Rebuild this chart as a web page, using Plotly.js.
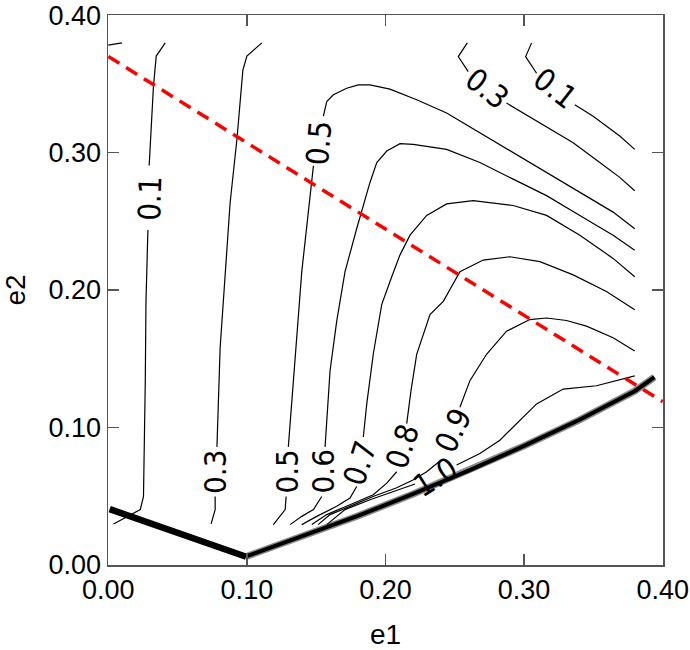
<!DOCTYPE html>
<html>
<head>
<meta charset="utf-8">
<script src="https://cdn.plot.ly/plotly-3.0.1.min.js"></script>
<style>html,body{margin:0;padding:0;background:#fff;}</style>
</head>
<body>
<div id="chart" style="width:690px;height:650px;"></div>
<script>
// ---- data (e1, e2 coordinates) ----
const tickVals = [0, 0.1, 0.2, 0.3, 0.4];
const tickText = ["0.00", "0.10", "0.20", "0.30", "0.40"];

// contour lines (null = gap where the level label sits)
const c01x = [0.0411,0.0346,0.0326,0.0310,0.0295,null,0.0286,0.0272,0.0267,0.0254,0.0231,0.0038];
const c01y = [0.3799,0.3703,0.3484,0.3217,0.2906,null,0.2437,0.1917,0.1339,0.0497,0.0401,0.0297];

const c03x = [0.1108,0.1000,0.0971,0.0951,0.0928,0.0879,0.0831,0.0807,0.0784,null,0.0771,0.0771,0.0742];
const c03y = [0.3799,0.3703,0.3601,0.3361,0.3096,0.2635,0.1917,0.1580,0.0858,null,0.0497,0.0401,0.0297];

const c05x = [0.1191,0.1276,0.1283,null,0.1299,0.1348,0.1396,0.1480,null,0.1552,0.1576,0.1624,0.1720,0.1804,0.1888,0.2032,0.2225,0.2441,0.2681,0.2921,0.3162,0.3402,0.3642,0.3798];
const c05y = [0.0292,0.0401,0.0497,null,0.0858,0.1534,0.2134,0.2904,null,0.3265,0.3372,0.3421,0.3469,0.3493,0.3493,0.3462,0.3385,0.3289,0.3144,0.3000,0.2856,0.2711,0.2567,0.2446];

const c06x = [0.1312,0.1396,0.1480,0.1540,null,0.1564,0.1600,0.1648,0.1708,0.1792,0.1840,0.1888,0.1937,0.2009,0.2105,0.2200,0.2441,0.2681,0.2921,0.3162,0.3402,0.3642,0.3798];
const c06y = [0.0292,0.0352,0.0401,0.0497,null,0.0858,0.1412,0.1773,0.2134,0.2446,0.2615,0.2783,0.2928,0.3012,0.3065,0.3060,0.3024,0.2928,0.2807,0.2687,0.2543,0.2399,0.2290];

const c07x = [0.1396,0.1504,0.1648,0.1744,0.1792,null,0.1840,0.1865,0.1912,0.1973,0.2045,0.2104,0.2177,0.2297,0.2441,0.2633,0.2921,0.3162,0.3402,0.3642,0.3798];
const c07y = [0.0292,0.0352,0.0425,0.0485,0.0569,null,0.0930,0.1173,0.1534,0.1895,0.2097,0.2254,0.2399,0.2543,0.2627,0.2651,0.2615,0.2543,0.2399,0.2230,0.2097];

const c08x = [0.1468,0.1576,0.1744,0.1912,0.2009,0.2081,null,0.2153,0.2184,0.2225,0.2321,0.2417,0.2537,0.2705,0.2897,0.3114,0.3354,0.3594,0.3798];
const c08y = [0.0292,0.0365,0.0437,0.0509,0.0594,0.0677,null,0.1027,0.1267,0.1532,0.1821,0.1917,0.2134,0.2218,0.2242,0.2206,0.2110,0.1989,0.1857];

const c09x = [0.1514,0.1600,0.1744,0.1910,0.2081,0.2198,0.2297,0.2393,null,0.2537,0.2609,0.2729,0.2873,0.3041,0.3162,0.3306,0.3450,0.3642,0.3798];
const c09y = [0.0292,0.0365,0.0425,0.0497,0.0560,0.0617,0.0677,0.0755,null,0.1147,0.1340,0.1532,0.1700,0.1785,0.1796,0.1778,0.1737,0.1652,0.1556];

const c10x = [0.1576,0.1708,0.1888,0.2068,0.2213,null,0.2513,0.2681,0.2825,0.2969,0.3090,0.3282,0.3522,0.3798];
const c10y = [0.0292,0.0401,0.0473,0.0538,0.0588,null,0.0726,0.0810,0.0906,0.1051,0.1171,0.1279,0.1303,0.1375];

const c03bx = [0.2590,0.2525,0.2597,null,0.2873,0.3114,0.3354,0.3546,0.3690,0.3798];
const c03by = [0.3799,0.3699,0.3590,null,0.3361,0.3217,0.3072,0.2928,0.2820,0.2723];

const c01bx = [0.3054,0.3011,0.3090,null,0.3366,0.3498,0.3690,0.3798];
const c01by = [0.3799,0.3699,0.3578,null,0.3349,0.3265,0.3121,0.3024];

const cTinyX = [0.0, 0.0099];
const cTinyY = [0.3783, 0.3799];

// contour level labels
const labelText = ["0.1","0.3","0.5","0.6","0.7","0.8","0.9","1.0","0.5","0.3","0.1"];
const labelX    = [0.0298,0.0771,0.1288,0.1547,0.1816,0.2122,0.2489,0.2357,0.1516,0.2729,0.3222];
const labelY    = [0.2663,0.0677,0.0677,0.0677,0.0738,0.0863,0.0978,0.0641,0.3072,0.3469,0.3469];

// thick boundary lines
const bLeftX  = [0.001, 0.0995];
const bLeftY  = [0.0405, 0.0058];
const bRightX = [0.0995,0.14,0.18,0.22,0.26,0.30,0.34,0.38,0.394];
const bRightY = [0.006,0.0205,0.0355,0.0515,0.0685,0.0865,0.1055,0.1265,0.1365];

// red dashed line
const redX = [0.0, 0.40];
const redY = [0.370, 0.1187];

// ---- styles ----
const labelAngle = [-88,-90,-90,-90,-72,-72,-65,-32,-85,38,38];
const thin = {color:'#000', width:1.2};

const contours = [[c01x,c01y],[c03x,c03y],[c05x,c05y],[c06x,c06y],[c07x,c07y],[c08x,c08y],[c09x,c09y],[c10x,c10y],[c03bx,c03by],[c01bx,c01by],[cTinyX,cTinyY]];
const traces = contours.map(c => ({x:c[0], y:c[1], mode:'lines', line:thin, connectgaps:false, hoverinfo:'skip', showlegend:false}));
traces.push({x:bLeftX, y:bLeftY, mode:'lines', line:{color:'#000', width:6.5}, showlegend:false});
traces.push({x:bRightX, y:bRightY, mode:'lines', line:{color:'rgba(40,40,40,0.55)', width:7}, showlegend:false});
traces.push({x:bRightX, y:bRightY, mode:'lines', line:{color:'#000', width:4}, showlegend:false});
traces.push({x:redX, y:redY, mode:'lines', line:{color:'#ff0000', width:3.5, dash:'13px,8px'}, showlegend:false});

const annotations = labelText.map((t,i) => ({
  x: labelX[i], y: labelY[i], xref:'x', yref:'y', text: t, showarrow:false,
  textangle: labelAngle[i],
  font:{family:'"Liberation Sans Narrow", "DejaVu Sans Condensed", "Liberation Sans", Arial, sans-serif', size:31, color:'#000'}
}));

const axisCommon = {
  range:[-0.0002,0.4002], tickvals:tickVals, ticktext:tickText,
  ticks:'inside', ticklen:11, tickwidth:1.3, tickcolor:'#555',
  showline:true, linecolor:'#555', linewidth:1.5, mirror:'ticks',
  showgrid:false, zeroline:false, ticklabeloverflow:'allow',
  tickfont:{family:'"Liberation Sans", Arial, sans-serif', size:27, color:'#000'}
};

const layout = {
  width:690, height:650,
  margin:{l:108, r:27, t:15, b:84.5},
  paper_bgcolor:'#fff', plot_bgcolor:'#fff',
  xaxis: Object.assign({}, axisCommon, {title:{text:'e1', font:{family:'"Liberation Sans", Arial, sans-serif', size:28, color:'#000'}, standoff:24}}),
  yaxis: Object.assign({}, axisCommon, {title:{text:'e2', font:{family:'"Liberation Sans", Arial, sans-serif', size:28, color:'#000'}, standoff:26}}),
  annotations: annotations,
  showlegend:false
};

Plotly.newPlot('chart', traces, layout, {displayModeBar:false, staticPlot:true});
</script>
</body>
</html>
